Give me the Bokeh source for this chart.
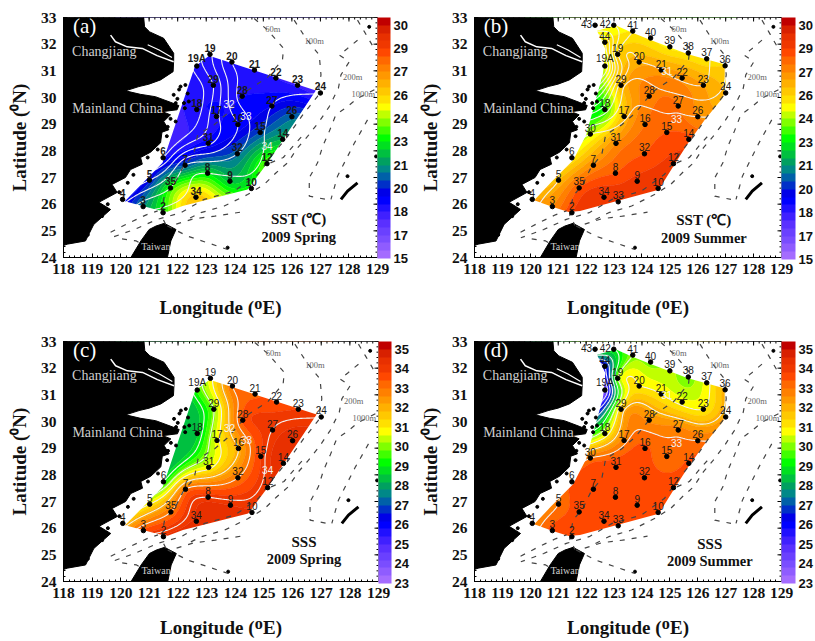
import numpy as np
from bokeh.core.properties import value
from bokeh.embed import file_html
from bokeh.layouts import column, row
from bokeh.models import ColorBar, ColumnDataSource, FixedTicker, LinearColorMapper, Range1d
from bokeh.plotting import figure
from bokeh.resources import INLINE

# ---------- stations ----------
station_ids = ["19A","19","20","21","22","23","24","29","28","27","26","18","17","16","15","14","31","32","12",
               "7","8","9","10","6","5","35","34","3","2","4","33","30","36","37","38","39","40","41","42","43","44"]
station_lon = [122.67,123.13,123.90,124.69,125.44,126.20,127.00,123.25,124.26,125.30,126.00,122.67,123.36,124.11,124.89,125.68,123.07,124.09,125.13,
               122.26,123.05,123.83,124.58,121.49,121.01,121.75,122.64,120.79,121.49,120.07,123.15,122.15,126.98,126.32,125.66,125.00,124.31,123.67,122.99,122.32,122.67]
station_lat = [31.18,31.62,31.33,31.03,30.73,30.46,30.17,30.46,30.05,29.68,29.28,29.55,29.29,28.99,28.69,28.43,28.28,27.89,27.52,
               27.46,27.16,26.86,26.59,27.74,26.90,26.61,26.26,25.91,25.68,26.18,26.09,28.63,31.19,31.45,31.67,31.90,32.23,32.49,32.71,32.71,32.07]
side_labels = ["42","43"]

# values per station (None: station not sampled that season)
sst_spring = [18.2,18.4,18.1,18.2,18.0,17.9,17.7,18.4,18.5,19.0,20.3,18.4,18.5,18.7,20.0,21.5,18.7,20.3,23.5,
              20.0,22.3,21.8,22.8,18.4,19.3,23.0,25.8,20.8,22.8,18.5,None,None,None,None,None,None,None,None,None,None,None]
sss_spring = [29.5,30.8,33.0,33.3,33.6,33.8,34.0,30.0,33.5,34.0,34.5,28.5,30.8,32.0,33.8,34.5,30.8,33.0,34.2,
              33.0,34.0,34.2,34.3,29.0,31.0,33.0,34.3,33.5,34.3,31.5,None,None,None,None,None,None,None,None,None,None,None]
sst_summer = [24.5,25.5,26.3,26.7,26.8,26.5,26.0,26.0,27.3,27.5,27.0,23.0,26.0,27.5,28.0,28.2,27.0,28.0,28.7,
              27.0,28.0,28.7,29.0,25.0,26.0,28.0,29.0,27.0,28.5,26.5,29.0,24.3,25.5,25.0,25.0,24.8,25.0,25.0,24.5,24.5,25.0]
sss_summer = [24.0,30.0,31.0,31.0,30.8,31.0,32.3,31.5,32.5,32.8,33.0,30.5,32.8,33.5,33.0,33.5,33.7,33.7,33.7,
              33.7,33.7,33.7,33.7,33.5,33.0,33.6,33.7,33.6,33.7,32.5,33.7,33.0,32.0,30.8,30.0,30.3,30.0,30.0,29.0,29.5,26.0]

# sampled area outlines
spring_area_lon = [120.15,121.30,121.64,122.17,124.45,125.15,126.84,123.10,122.60,121.47]
spring_area_lat = [26.11,25.78,25.72,25.93,26.55,27.55,30.26,31.57,31.15,27.55]
summer_area_lon = [122.39,123.07,123.66,124.31,125.65,126.98,127.00,126.91,126.24,125.65,125.12,124.60,121.78,121.37,120.78,120.14,120.72,121.54,122.00,122.60,122.69]
summer_area_lat = [32.50,32.70,32.43,32.16,31.62,31.24,30.57,30.01,29.15,28.28,27.41,26.54,25.74,25.71,25.90,26.15,26.79,27.66,28.59,30.88,31.81]

# ---------- map ----------
china_lon = [118.00,120.81,120.84,121.02,121.51,121.86,121.86,121.84,121.40,120.99,120.64,120.17,120.69,121.22,121.75,122.04,121.98,121.46,121.75,121.51,121.69,121.45,121.40,121.05,120.70,120.76,120.35,120.17,119.70,119.88,119.24,119.65,119.06,118.77,118.13,118.00]
china_lat = [33.00,32.99,32.65,32.46,32.22,31.66,31.40,30.97,30.66,30.50,30.41,30.25,30.12,30.03,29.82,29.70,29.54,29.47,29.35,29.10,28.79,28.70,28.30,27.95,27.75,27.50,27.30,27.00,26.74,26.44,26.07,25.80,25.24,24.62,24.50,24.45]
taiwan_lon = [120.36,120.71,121.00,121.24,121.53,121.94,121.76,121.64]
taiwan_lat = [24.00,24.62,25.05,25.18,25.28,25.05,24.62,24.00]
river_lon = [119.65,119.82,120.23,120.76,121.28,121.86]
river_lat = [32.34,32.09,31.90,31.84,31.57,31.34]
river2_lon = [120.95,121.35,121.80]
river2_lat = [31.98,31.78,31.50]
island_lon = [121.86,122.10,122.27,122.39,122.22,121.93,121.99,121.75,121.93,121.65,127.95,128.71,128.95,123.75,122.35,122.05,122.25,121.62,121.30,120.95,120.45,120.25,119.95,119.55,119.35,118.85,118.55]
island_lat = [30.10,30.41,30.47,29.85,29.79,29.79,29.95,29.20,29.10,28.90,27.05,32.65,27.79,24.37,30.15,30.30,29.60,28.55,28.05,27.75,27.10,26.80,26.45,26.00,25.55,24.85,24.70]
okinawa_lon = [127.72,127.95,128.30]
okinawa_lat = [26.18,26.49,26.80]

bathy_lon = [
    [124.68,125.15,125.71,125.67,125.15,124.39,123.75,123.28,122.70,122.56,122.17,121.88,121.53,121.41,121.60],
    [126.08,126.49,126.96,127.02,126.90,126.38,125.85,125.32,124.80,123.98,122.93,122.11,121.29,120.48,119.66],
    [128.30,127.95,127.66,128.01,127.72,127.63,127.31,126.96,126.55,126.20,125.85,125.44,125.03,124.45,123.63,122.81,122.23],
    [128.89,128.30,127.95,127.54,127.31,127.08,126.90,126.61,126.61,127.19],
    [128.65,128.19,127.60,127.37],
    [121.64,122.35,123.05,123.75],
    [128.30,128.55,128.85],
    [119.65,120.30,120.90,121.30],
    [120.05,120.55,120.90],
    [121.95,122.55,123.30,124.20],
    [125.25,125.70,126.10,126.40],
]
bathy_lat = [
    [32.96,32.53,31.84,31.41,30.76,30.22,29.41,28.98,28.60,27.86,27.36,26.74,26.30,25.60,25.20],
    [32.90,32.22,31.59,30.85,30.04,29.35,28.54,27.86,27.11,26.49,26.18,25.68,25.43,25.05,24.74],
    [32.15,31.84,31.59,31.34,30.85,30.35,29.66,29.10,28.54,28.11,27.55,27.17,26.74,26.36,25.93,25.68,25.37],
    [30.29,29.97,29.66,29.35,28.73,28.17,27.55,26.99,26.30,26.18],
    [29.16,28.29,27.05,26.18],
    [25.18,24.80,24.55,24.30],
    [32.90,32.45,31.90],
    [24.95,25.30,25.60,25.75],
    [24.70,24.62,24.40],
    [25.25,25.45,25.55,25.70],
    [27.55,27.75,28.25,28.60],
]
depth_names = ["60m","100m","200m","1000m"]
depth_lon = [125.33,126.78,128.13,128.50]
depth_lat = [32.58,32.13,30.78,30.14]

# ---------- scales ----------
band_colors = ["#A46CFF","#8F5CFF","#7A4DFF","#6A40FF","#5A30FF","#4020FF","#2010FF","#0000FF","#0000E8","#0030C8",
               "#0060A8","#008888","#00A060","#00C040","#00E020","#00FF00","#40FF00","#80FF00","#C0FF00","#FFFF00",
               "#FFE000","#FFC800","#FFB000","#FF9800","#FF8000","#FF6800","#FF4800","#F03800","#E83000","#D82000","#C00000"]
sst_levels = [15 + 0.5 * i for i in range(32)]
sss_levels = [23 + 0.4 * i for i in range(32)]
sst_tick_values = [15,16.5,18,19.5,21,22.5,24,25.5,27,28.5,30]
sst_tick_labels = ["15","17","18","20","21","23","24","26","27","29","30"]
sss_tick_values = [23,24,25,26,27,28,29,30,31,32,33,34,35]
sss_tick_labels = ["23","24","25","26","27","28","29","30","31","32","33","34","35"]
salinity_line_levels = [24,25,26,27,28,29,30,31,32,33,34,35]
lon_ticks = list(range(118,130))
lat_ticks = list(range(24,34))
SERIF = "Liberation Serif"
SANS = "Liberation Sans"

gx = np.linspace(119.8,127.4,170)
gy = np.linspace(25.4,33.0,170)

def field(vals, reg=0.01):
    ok = [i for i,v in enumerate(vals) if v is not None]
    px = np.array([station_lon[i] for i in ok]); py = np.array([station_lat[i] for i in ok])
    v = np.array([vals[i] for i in ok],float)
    def kern(r2):
        return 0.5*r2*np.log(np.maximum(r2,1e-12))
    d2 = (px[:,None]-px[None,:])**2+(py[:,None]-py[None,:])**2
    n = len(px)
    P = np.column_stack([np.ones(n),px,py])
    A = np.block([[kern(d2)+reg*np.eye(n),P],[P.T,np.zeros((3,3))]])
    w = np.linalg.solve(A,np.concatenate([v,np.zeros(3)]))
    X,Y = np.meshgrid(gx,gy)
    Z = (kern((X[...,None]-px)**2+(Y[...,None]-py)**2)*w[:n]).sum(-1)+w[n]+w[n+1]*X+w[n+2]*Y
    return np.clip(Z, v.min(), v.max())

def minor_of(t):
    return [v/5 for v in range(t[0]*5,t[-1]*5+1)]

def panel(tag, frame_left, frame_w, right, top, frame_h, bottom, vals, sal, levels, ticks, tick_labels, bar_w, bar_gap,
          area_lon, area_lat, title1, title2, tlon, tlat1, tlat2, line_labels, label_style, x_label_standoff):
    p = figure(width=frame_left+frame_w+right, height=top+frame_h+bottom, x_range=Range1d(118,129), y_range=Range1d(24,33),
               output_backend="svg", toolbar_location=None, min_border_left=frame_left, min_border_right=right,
               min_border_top=top, min_border_bottom=bottom)
    p.grid.visible = False
    p.outline_line_color = "black"
    Z = np.clip(field(vals), levels[0]+1e-3, levels[-1]-1e-3)
    p.contour(gx, gy, Z, levels, fill_color=band_colors, line_color=band_colors+[band_colors[-1]], line_width=0.7)
    S = field(sal)
    p.contour(gx, gy, S, salinity_line_levels, fill_color=None, line_color="#F2F2F2", line_width=1.1)
    # everything outside the sampled area is blank
    p.multi_polygons(xs=[[[[118,129,129,118], area_lon]]], ys=[[[[24,24,33,33], area_lat]]], fill_color="white", line_color=None)
    # land
    p.patch(china_lon, china_lat, fill_color="black", line_color="black")
    p.patch(taiwan_lon, taiwan_lat, fill_color="black", line_color="black")
    p.line(river_lon, river_lat, line_color="white", line_width=1.5)
    p.line(river2_lon, river2_lat, line_color="white", line_width=1.2)
    p.scatter(island_lon, island_lat, size=3, color="black")
    p.line(okinawa_lon, okinawa_lat, line_color="black", line_width=3)
    p.multi_line(bathy_lon, bathy_lat, line_color="#444444", line_width=1.2, line_dash="5 7")
    # ticks on the two unlabelled sides
    for xs, ys, ang in ((lon_ticks, [33]*len(lon_ticks), np.pi/2), ([129]*len(lat_ticks), lat_ticks, 0)):
        p.scatter(xs, ys, marker="dash", size=8, angle=ang, line_color="black")
    mx = minor_of(lon_ticks); my = minor_of(lat_ticks)
    p.scatter(mx, [33]*len(mx), marker="dash", size=4, angle=np.pi/2, line_color="black")
    p.scatter([129]*len(my), my, marker="dash", size=4, line_color="black")
    # stations
    ok = [i for i,v in enumerate(vals) if v is not None]
    top_ok = [i for i in ok if station_ids[i] not in side_labels]
    side_ok = [i for i in ok if station_ids[i] in side_labels]
    src = ColumnDataSource(dict(x=[station_lon[i] for i in ok], y=[station_lat[i] for i in ok]))
    p.scatter("x","y",source=src,size=4.5,color="black")
    lab_kw = dict(text_font=value(SANS),text_font_size="10px",text_font_style=label_style,text_color="#1a1a1a")
    p.text([station_lon[i] for i in top_ok],[station_lat[i] for i in top_ok],text=[station_ids[i] for i in top_ok],
           text_align="center",text_baseline="bottom",y_offset=-2.5,**lab_kw)
    if side_ok:
        p.text([station_lon[i] for i in side_ok],[station_lat[i] for i in side_ok],text=[station_ids[i] for i in side_ok],
               text_align="right",text_baseline="middle",x_offset=-3,y_offset=-1,**lab_kw)
    # texts
    kw = dict(text_font=value(SERIF))
    p.text([118.33],[32.25],text=[tag],text_color="white",text_font_size="21px",text_baseline="bottom",**kw)
    p.text([118.30],[31.74],text=["Changjiang"],text_color="#cfcfcf",text_font_size="14px",text_baseline="middle",**kw)
    p.text([118.31],[29.57],text=["Mainland China"],text_color="#cfcfcf",text_font_size="14px",text_baseline="middle",**kw)
    p.text([120.72],[24.40],text=["Taiwan"],text_color="#cfcfcf",text_font_size="10px",text_baseline="middle",**kw)
    p.text(depth_lon,depth_lat,text=depth_names,text_color="#666666",text_font_size="8.5px",text_align="center",text_baseline="middle",**kw)
    p.text([tlon],[tlat1],text=[title1],text_align="center",text_baseline="middle",text_font_size="15px",text_font_style="bold",text_color="#111111",**kw)
    p.text([tlon],[tlat2],text=[title2],text_align="center",text_baseline="middle",text_font_size="14.5px",text_font_style="bold",text_color="#111111",**kw)
    p.text(line_labels[0],line_labels[1],text=line_labels[2],text_color="#F2F2F2",text_font_size="10px",
           text_align="center",text_baseline="middle",text_font=value(SANS))
    # axes
    for ax,t in ((p.xaxis[0],lon_ticks),(p.yaxis[0],lat_ticks)):
        ax.ticker = FixedTicker(ticks=t, minor_ticks=minor_of(t))
        ax.major_tick_in=4; ax.major_tick_out=0; ax.minor_tick_in=2; ax.minor_tick_out=0
        ax.major_label_text_font=SERIF; ax.major_label_text_font_style="bold"; ax.major_label_text_font_size="15.5px"
        ax.major_label_text_color="#111111"; ax.major_label_standoff=7
        ax.axis_label_text_font=SERIF; ax.axis_label_text_font_style="bold"; ax.axis_label_text_font_size="19px"
        ax.axis_label_text_color="#111111"
    p.yaxis[0].axis_label = "Latitude (\u2070N)"
    p.yaxis[0].axis_label_standoff = 8
    p.xaxis[0].major_label_standoff = 6
    p.xaxis[0].axis_label = "Longitude (\u1d3cE)"
    p.xaxis[0].axis_label_standoff = x_label_standoff
    # colour scale
    bar = ColorBar(color_mapper=LinearColorMapper(palette=band_colors, low=levels[0], high=levels[-1]),
                   ticker=FixedTicker(ticks=ticks), major_label_overrides={t:l for t,l in zip(ticks,tick_labels)},
                   width=bar_w, height=frame_h, margin=bar_gap, padding=0, location="top_left", orientation="vertical",
                   label_standoff=3, major_tick_line_color=None, minor_tick_line_color=None, bar_line_color=None,
                   major_label_text_font=SANS, major_label_text_font_style="bold", major_label_text_font_size="13px",
                   major_label_text_color="#111111")
    p.add_layout(bar, "right")
    return p

labels_a = ([123.80,124.39,125.13],[29.75,29.29,28.18],["32","33","34"])
labels_b = ([124.89,125.24],[31.00,29.18],["31","33"])
TOP_H = 320
BOT_H = 321

a = panel("(a)",63,314,39,17,241,TOP_H-258,sst_spring,sss_spring,sst_levels,sst_tick_values,sst_tick_labels,13,0,spring_area_lon,spring_area_lat,"SST (\u2103)","2009 Spring",126.24,25.45,24.78,labels_a,"bold",20)
b = panel("(b)",53,313,33,15,242,TOP_H-257,sst_summer,sss_summer,sst_levels,sst_tick_values,sst_tick_labels,14,0,summer_area_lon,summer_area_lat,"SST (\u2103)","2009 Summer",126.22,25.39,24.75,labels_b,"normal",20)
c = panel("(c)",63,315,38,21,242,BOT_H-263,sss_spring,sss_spring,sss_levels,sss_tick_values,sss_tick_labels,13,0,spring_area_lon,spring_area_lat,"SSS","2009 Spring",126.40,25.50,24.86,labels_a,"normal",16)
d = panel("(d)",53,312,34,19,242,BOT_H-261,sss_summer,sss_summer,sss_levels,sss_tick_values,sss_tick_labels,14,0,summer_area_lon,summer_area_lat,"SSS","2009 Summer",126.43,25.41,24.77,labels_b,"normal",16)

root = column(row(a,b,spacing=0),row(c,d,spacing=0),spacing=0)
open("out.html","w").write(file_html(root,INLINE))
